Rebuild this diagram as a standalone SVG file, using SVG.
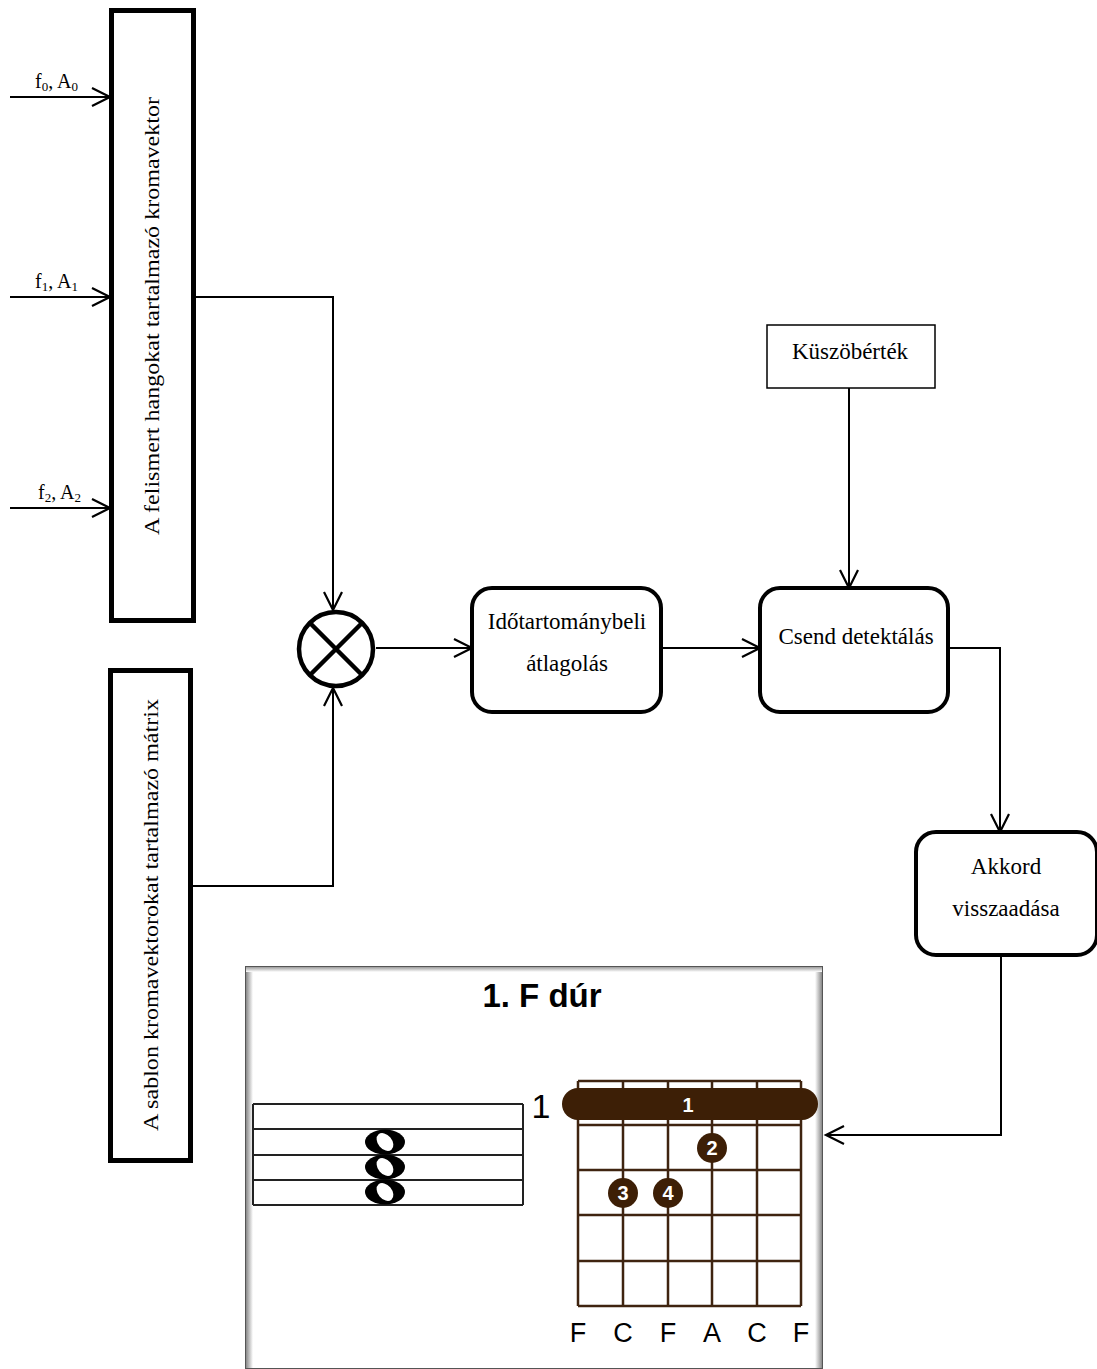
<svg xmlns="http://www.w3.org/2000/svg" width="1097" height="1369" viewBox="0 0 1097 1369">
<style>
.t{font-family:"Liberation Serif","Times New Roman",serif;fill:#000}
.c{fill:none;stroke:#000;stroke-width:2}
.box{fill:#fff;stroke:#000;stroke-width:5}
.rbox{fill:#fff;stroke:#000;stroke-width:4}
.s{font-family:"Liberation Sans",Arial,sans-serif}
.grid{stroke:#3f2410;stroke-width:2.5;fill:none}
.dot{fill:#3d1f06}
.wn{font-family:"Liberation Sans",Arial,sans-serif;font-size:20px;font-weight:bold;fill:#fff;text-anchor:middle}
</style>
<defs>
<marker id="ah" markerUnits="userSpaceOnUse" markerWidth="24" markerHeight="24" refX="20" refY="10" orient="auto" viewBox="0 0 24 20">
<path d="M2,1 L20,10 L2,19" fill="none" stroke="#000" stroke-width="2.2"/>
</marker>
<linearGradient id="shL" x1="0" x2="1" y1="0" y2="0"><stop offset="0" stop-color="#777"/><stop offset="1" stop-color="#fff"/></linearGradient>
<linearGradient id="shR" x1="1" x2="0" y1="0" y2="0"><stop offset="0" stop-color="#777"/><stop offset="1" stop-color="#fff"/></linearGradient>
<linearGradient id="shT" x1="0" x2="0" y1="0" y2="1"><stop offset="0" stop-color="#888"/><stop offset="1" stop-color="#fff"/></linearGradient>
</defs>

<g id="connectors">
<path class="c" d="M10,97 H110" marker-end="url(#ah)"/>
<path class="c" d="M10,297 H110" marker-end="url(#ah)"/>
<path class="c" d="M10,508 H110" marker-end="url(#ah)"/>
<path class="c" d="M194,297 H333 V610" marker-end="url(#ah)"/>
<path class="c" d="M192,886 H333 V688" marker-end="url(#ah)"/>
<path class="c" d="M376,648 H472" marker-end="url(#ah)"/>
<path class="c" d="M661,648 H760" marker-end="url(#ah)"/>
<path class="c" d="M849,388 V588" marker-end="url(#ah)"/>
<path class="c" d="M948,648 H1000 V832" marker-end="url(#ah)"/>
<path class="c" d="M1001,955 V1135 H826" marker-end="url(#ah)"/>
</g>

<g id="input-labels">
<text class="t" x="35" y="88" font-size="20">f<tspan font-size="13" dy="3">0</tspan><tspan dy="-3">, A</tspan><tspan font-size="13" dy="3">0</tspan></text>
<text class="t" x="35" y="288" font-size="20">f<tspan font-size="13" dy="3">1</tspan><tspan dy="-3">, A</tspan><tspan font-size="13" dy="3">1</tspan></text>
<text class="t" x="38" y="499" font-size="20">f<tspan font-size="13" dy="3">2</tspan><tspan dy="-3">, A</tspan><tspan font-size="13" dy="3">2</tspan></text>
</g>

<g id="node-kromavektor">
<rect class="box" x="111.5" y="10.5" width="82" height="610"/>
<text class="t" font-size="21" text-anchor="middle" transform="translate(159,316) rotate(-90)" textLength="438" lengthAdjust="spacingAndGlyphs">A felismert hangokat tartalmazó kromavektor</text>
</g>

<g id="node-sablon">
<rect class="box" x="110.5" y="670.5" width="80" height="490"/>
<text class="t" font-size="21" text-anchor="middle" transform="translate(158,915) rotate(-90)" textLength="432" lengthAdjust="spacingAndGlyphs">A sablon kromavektorokat tartalmazó mátrix</text>
</g>

<g id="node-multiply">
<circle cx="336" cy="649" r="37" fill="#fff" stroke="#000" stroke-width="4.5"/>
<path d="M310,623 L362,675 M362,623 L310,675" stroke="#000" stroke-width="4.5"/>
</g>

<g id="node-atlagolas">
<rect class="rbox" x="472" y="588" width="189" height="124" rx="20"/>
<text class="t" x="567" y="629" font-size="23" text-anchor="middle">Időtartománybeli</text>
<text class="t" x="567" y="671" font-size="23" text-anchor="middle">átlagolás</text>
</g>

<g id="node-kuszob">
<rect x="767" y="325" width="168" height="63" fill="#fff" stroke="#000" stroke-width="1.5"/>
<text class="t" x="850" y="359" font-size="23" text-anchor="middle">Küszöbérték</text>
</g>

<g id="node-csend">
<rect class="rbox" x="760" y="588" width="188" height="124" rx="20"/>
<text class="t" x="856" y="644" font-size="23" text-anchor="middle">Csend detektálás</text>
</g>

<g id="node-akkord">
<rect class="rbox" x="916" y="832" width="181" height="123" rx="20"/>
<text class="t" x="1006" y="874" font-size="23" text-anchor="middle">Akkord</text>
<text class="t" x="1006" y="916" font-size="23" text-anchor="middle">visszaadása</text>
</g>

<g id="node-chord">
<rect x="245" y="966" width="578" height="403" fill="#fff"/>
<rect x="245" y="966" width="8" height="403" fill="url(#shL)"/>
<rect x="815" y="966" width="8" height="403" fill="url(#shR)"/>
<rect x="245" y="966" width="578" height="6" fill="url(#shT)"/>
<rect x="245.5" y="966.5" width="577" height="402" fill="none" stroke="#555" stroke-width="1"/>
<text class="s" x="542" y="1007" font-size="33" font-weight="bold" text-anchor="middle">1. F dúr</text>

<g id="staff" stroke="#222" stroke-width="2" fill="none">
<path d="M253,1104 H523 M253,1129 H523 M253,1155 H523 M253,1180 H523 M253,1205 H523 M253,1104 V1205 M523,1104 V1205"/>
</g>
<g id="notes">
<g transform="translate(385,1142)"><ellipse rx="20" ry="12.5" fill="#000"/><ellipse rx="7" ry="10" fill="#fff" transform="rotate(-40)"/></g>
<g transform="translate(385,1167)"><ellipse rx="20" ry="12.5" fill="#000"/><ellipse rx="7" ry="10" fill="#fff" transform="rotate(-40)"/></g>
<g transform="translate(385,1192)"><ellipse rx="20" ry="12.5" fill="#000"/><ellipse rx="7" ry="10" fill="#fff" transform="rotate(-40)"/></g>
</g>

<text class="s" x="541" y="1118" font-size="34" text-anchor="middle">1</text>
<path class="grid" d="M578,1081 H801 M578,1125 H801 M578,1170 H801 M578,1215 H801 M578,1261 H801 M578,1306 H801 M578,1081 V1306 M623,1081 V1306 M668,1081 V1306 M712,1081 V1306 M757,1081 V1306 M801,1081 V1306"/>
<rect class="dot" x="562" y="1088" width="256" height="32" rx="16"/>
<text class="wn" x="688" y="1112">1</text>
<circle class="dot" cx="712" cy="1148" r="15"/>
<text class="wn" x="712" y="1155">2</text>
<circle class="dot" cx="623" cy="1193" r="15"/>
<text class="wn" x="623" y="1200">3</text>
<circle class="dot" cx="668" cy="1193" r="15"/>
<text class="wn" x="668" y="1200">4</text>
<g class="s" font-size="27" text-anchor="middle">
<text x="578" y="1342">F</text>
<text x="623" y="1342">C</text>
<text x="668" y="1342">F</text>
<text x="712" y="1342">A</text>
<text x="757" y="1342">C</text>
<text x="801" y="1342">F</text>
</g>
</g>
</svg>
